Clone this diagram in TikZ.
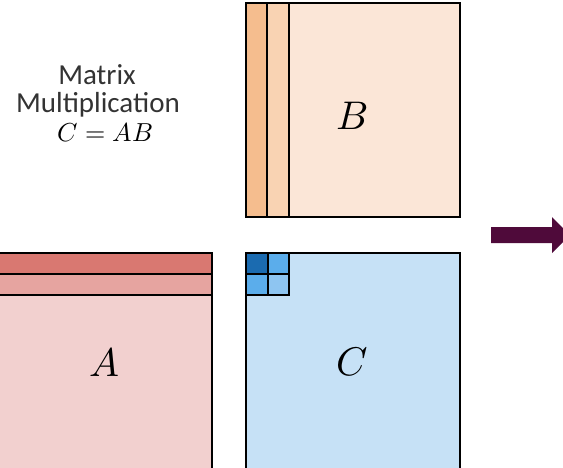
\documentclass[tikz,border=0pt]{standalone}
\usepackage{fontspec}
\usepackage{unicode-math}
\setmainfont{Carlito}
\setmathfont{Latin Modern Math}
\definecolor{amain}{HTML}{F2D0CF}
\definecolor{arow1}{HTML}{D97871}
\definecolor{arow2}{HTML}{E6A4A0}
\definecolor{bmain}{HTML}{FBE6D7}
\definecolor{bcol1}{HTML}{F5BD8E}
\definecolor{bcol2}{HTML}{F9D3B3}
\definecolor{cmain}{HTML}{C6E1F6}
\definecolor{ct1}{HTML}{1B6BB0}
\definecolor{ct2}{HTML}{5BADEB}
\definecolor{ct4}{HTML}{8EC5F1}
\definecolor{arrowc}{HTML}{4F0A3A}
\begin{document}
\begin{tikzpicture}[x=1pt,y=-1pt,
  blk/.style={draw=black,line width=1.3pt},
  biglabel/.style={font=\fontsize{40}{40}\selectfont},
  title/.style={font=\fontsize{29}{28}\selectfont,text=black!80,anchor=base,inner sep=0pt}]
\useasboundingbox (0,0) rectangle (563,467);
% A
\fill[amain] (-5,253) rectangle (212,475);
\fill[arow1] (-5,253) rectangle (212,274);
\fill[arow2] (-5,274) rectangle (212,295);
\draw[blk] (-5,253) -- (212,253) -- (212,475);
\draw[blk] (-5,274) -- (212,274);
\draw[blk] (-5,295) -- (212,295);
\node[biglabel] (la) at (104,362) {$A$};
% B
\fill[bmain] (246,3) rectangle (460,217);
\fill[bcol1] (246,3) rectangle (267,217);
\fill[bcol2] (267,3) rectangle (289,217);
\draw[blk] (246,3) rectangle (460,217);
\draw[blk] (267,3) -- (267,217);
\draw[blk] (289,3) -- (289,217);
\node[biglabel] (lb) at (352,116) {$B$};
% C
\fill[cmain] (246,253) rectangle (460,475);
\fill[ct1] (246,253) rectangle (268,274);
\fill[ct2] (268,253) rectangle (289,274);
\fill[ct2] (246,274) rectangle (268,295);
\fill[ct4] (268,274) rectangle (289,295);
\draw[blk] (246,475) -- (246,253) -- (460,253) -- (460,475);
\draw[blk] (246,274) -- (289,274);
\draw[blk] (246,295) -- (289,295) -- (289,253);
\draw[blk] (268,253) -- (268,295);
\node[biglabel] (lc) at (352,362) {$C$};
% title
\node[title] (t1) at (97,84) {Matrix};
\node[title] (t2) at (98,112) {Multiplication};
\node[title,font=\fontsize{26}{28}\selectfont,text=black] (t3) at (105,141) {$C=AB$};
% arrow
\fill[arrowc] (491,227) -- (552,227) -- (552,217) -- (570,235) -- (552,253) -- (552,243) -- (491,243) -- cycle;
\end{tikzpicture}
\end{document}
